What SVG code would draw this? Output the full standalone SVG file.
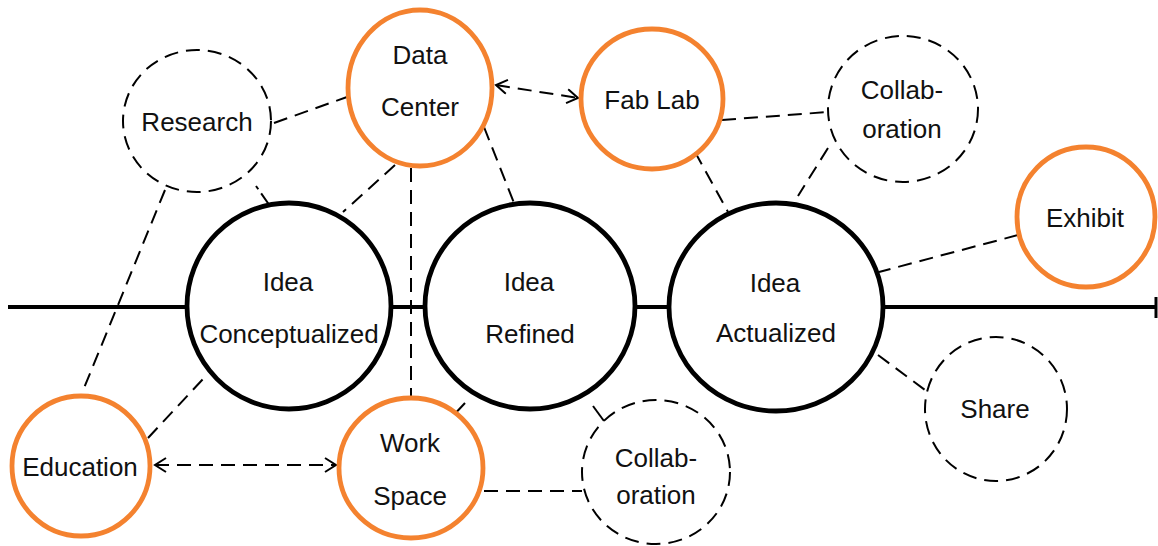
<svg xmlns="http://www.w3.org/2000/svg" width="1158" height="546" viewBox="0 0 1158 546">
<defs>
<marker id="ah" viewBox="0 0 14 16" refX="12" refY="8" markerWidth="14" markerHeight="16" markerUnits="userSpaceOnUse" orient="auto-start-reverse">
<path d="M1,1 L12,8 L1,15" fill="none" stroke="#000" stroke-width="2"/>
</marker>
<style>
.t{font-family:"Liberation Sans",Arial,sans-serif;font-size:26px;fill:#111;text-anchor:middle}
.main{fill:#fff;stroke:#000;stroke-width:4.8}
.org{fill:#fff;stroke:#F4822F;stroke-width:4.8}
.dsh{fill:#fff;stroke:#000;stroke-width:2;stroke-dasharray:14 8}
.c{fill:none;stroke:#000;stroke-width:2;stroke-dasharray:14 8}
.s{fill:none;stroke:#000;stroke-width:2}
</style>
</defs>
<rect width="1158" height="546" fill="#fff"/>
<g id="timeline">
<line x1="8" y1="307" x2="1157" y2="307" stroke="#000" stroke-width="4"/>
<line x1="1156" y1="297" x2="1156" y2="318" stroke="#000" stroke-width="3"/>
</g>
<g id="connectors">
<line class="c" x1="274" y1="123" x2="347" y2="97"/>
<line class="c" x1="256" y1="186" x2="270" y2="206" style="stroke-dasharray:4 5 16 0"/>
<line class="c" x1="165" y1="190" x2="82" y2="393"/>
<line class="c" x1="395" y1="165" x2="343" y2="212"/>
<line class="c" x1="411" y1="168" x2="411" y2="398"/>
<line class="c" x1="484" y1="127" x2="514" y2="203"/>
<line class="c" x1="496" y1="85" x2="578" y2="98" marker-start="url(#ah)" marker-end="url(#ah)"/>
<line class="c" x1="722" y1="120" x2="828" y2="112"/>
<line class="c" x1="695" y1="152" x2="728" y2="212"/>
<line class="c" x1="828" y1="148" x2="798" y2="196"/>
<line class="c" x1="1018" y1="235" x2="879" y2="272"/>
<line class="c" x1="878" y1="355" x2="925" y2="390"/>
<line class="s" x1="593" y1="406" x2="612" y2="432"/>
<line class="s" x1="449" y1="420" x2="465" y2="403"/>
<line class="c" x1="484" y1="491" x2="582" y2="491"/>
<line class="c" x1="148" y1="438" x2="203" y2="379"/>
<line class="c" x1="155" y1="465" x2="336" y2="465" marker-start="url(#ah)" marker-end="url(#ah)"/>
</g>
<g id="research">
<ellipse class="dsh" cx="197" cy="121" rx="74" ry="71"/>
<text class="t" x="197" y="131">Research</text>
</g>
<g id="data-center">
<ellipse class="org" cx="420" cy="88" rx="72" ry="78"/>
<text class="t" x="420" y="64">Data</text>
<text class="t" x="420" y="116">Center</text>
</g>
<g id="fab-lab">
<ellipse class="org" cx="652" cy="99" rx="71" ry="70"/>
<text class="t" x="652" y="109">Fab Lab</text>
</g>
<g id="collaboration-top">
<ellipse class="dsh" cx="903" cy="109" rx="75" ry="73"/>
<text class="t" x="902" y="99">Collab-</text>
<text class="t" x="902" y="138">oration</text>
</g>
<g id="exhibit">
<ellipse class="org" cx="1086" cy="217" rx="69" ry="70"/>
<text class="t" x="1085" y="227">Exhibit</text>
</g>
<g id="idea-conceptualized">
<ellipse class="main" cx="289" cy="306" rx="102" ry="103"/>
<text class="t" x="288" y="291">Idea</text>
<text class="t" x="289" y="343">Conceptualized</text>
</g>
<g id="idea-refined">
<ellipse class="main" cx="530" cy="306" rx="105" ry="103"/>
<text class="t" x="529" y="291">Idea</text>
<text class="t" x="530" y="343">Refined</text>
</g>
<g id="idea-actualized">
<ellipse class="main" cx="776" cy="307" rx="107" ry="104"/>
<text class="t" x="775" y="292">Idea</text>
<text class="t" x="776" y="342">Actualized</text>
</g>
<g id="share">
<ellipse class="dsh" cx="996" cy="409" rx="71" ry="72"/>
<text class="t" x="995" y="418">Share</text>
</g>
<g id="collaboration-bottom">
<ellipse class="dsh" cx="656" cy="472" rx="74" ry="72"/>
<text class="t" x="656" y="467">Collab-</text>
<text class="t" x="656" y="504">oration</text>
</g>
<g id="work-space">
<ellipse class="org" cx="411" cy="468" rx="72" ry="70"/>
<text class="t" x="410" y="452">Work</text>
<text class="t" x="410" y="505">Space</text>
</g>
<g id="education">
<ellipse class="org" cx="81" cy="466" rx="69" ry="70"/>
<text class="t" x="80" y="476">Education</text>
</g>
</svg>
